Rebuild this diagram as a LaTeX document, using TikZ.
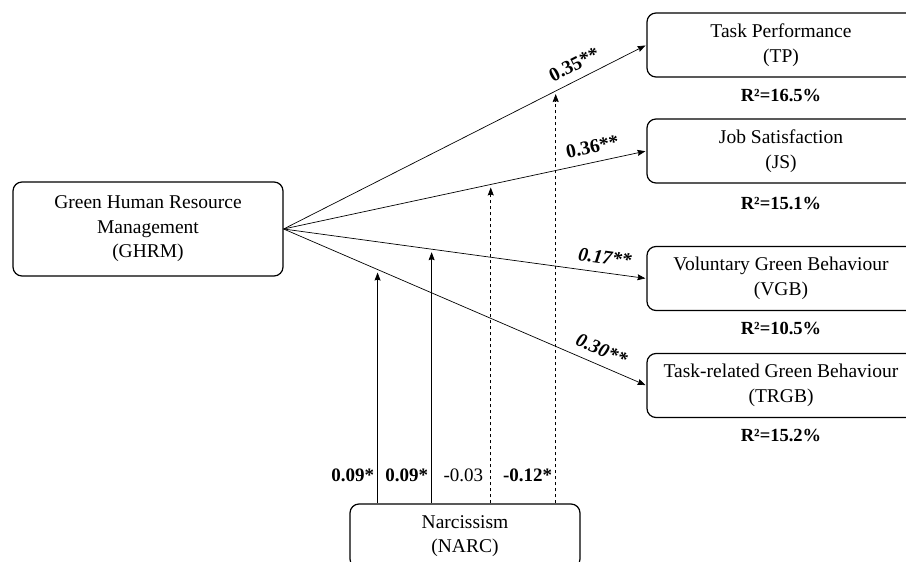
\documentclass[tikz,border=0pt]{standalone}
\usepackage{fontspec}
\setmainfont{Liberation Serif}
\usetikzlibrary{positioning,arrows.meta}

\begin{document}
\begin{tikzpicture}[x=1pt,y=1pt,>={Stealth[length=8pt,width=6pt,inset=1pt]},
    var node/.style={draw,rounded corners=9pt,line width=1.2pt,minimum width=268pt,minimum height=64pt,align=center,font=\fontsize{19.5}{24.5}\selectfont},
    rsq/.style={font=\fontsize{18.5}{22}\selectfont\bfseries},
    coef/.style={font=\fontsize{19.5}{22}\selectfont\bfseries,sloped,above=5pt},
    mod/.style={font=\fontsize{19}{22}\selectfont,anchor=east},
    path/.style={->,line width=0.7pt,shorten >=1pt},
    moderation/.style={->,line width=0.7pt,shorten >=3pt}]
    \useasboundingbox (0,0) rectangle (906,562);

    \node[var node,minimum width=270pt,minimum height=94pt] (ghrm) at (148,333) {Green Human Resource\\Management\\(GHRM)};

    \node[var node] (tp) at (781,517) {Task Performance\\(TP)};
    \node[var node] (js) at (781,411) {Job Satisfaction\\(JS)};
    \node[var node] (vgb) at (781,283.5) {Voluntary Green Behaviour\\(VGB)};
    \node[var node] (trgb) at (781,176.5) {Task-related Green Behaviour\\(TRGB)};

    \node[rsq] (r1) [below=8pt of tp] {R²=16.5\%};
    \node[rsq] (r2) [below=10pt of js] {R²=15.1\%};
    \node[rsq] (r3) [below=8pt of vgb] {R²=10.5\%};
    \node[rsq] (r4) [below=8pt of trgb] {R²=15.2\%};

    \node[var node,minimum width=230pt] (narc) at (465,26) {Narcissism\\(NARC)};

    % direct paths
    \draw[path] (ghrm.east) -- node[coef,pos=0.82] {0.35**} coordinate[pos=0.75] (m4) (tp.west);
    \draw[path] (ghrm.east) -- node[coef,pos=0.86] {0.36**} coordinate[pos=0.571] (m3) (js.west);
    \draw[path] (ghrm.east) -- node[coef,pos=0.88] {\itshape 0.17**} coordinate[pos=0.408] (m2) (vgb.west);
    \draw[path] (ghrm.east) -- node[coef,pos=0.86] {\itshape 0.30**} coordinate[pos=0.259] (m1) (trgb.west);

    % moderation
    \coordinate (labrow) at (0,87);
    \draw[moderation] (m1 |- narc.north) -- (m1);
    \draw[moderation] (m2 |- narc.north) -- (m2);
    \draw[moderation,dashed] (m3 |- narc.north) -- (m3);
    \draw[moderation,dashed] (m4 |- narc.north) -- (m4);

    \node[mod] (c1) at (m1 |- labrow) {\bfseries 0.09*};
    \node[mod] (c2) at (m2 |- labrow) {\bfseries 0.09*};
    \node[mod,xshift=-4pt] (c3) at (m3 |- labrow) {-0.03};
    \node[mod] (c4) at (m4 |- labrow) {\bfseries -0.12*};
\end{tikzpicture}
\end{document}
